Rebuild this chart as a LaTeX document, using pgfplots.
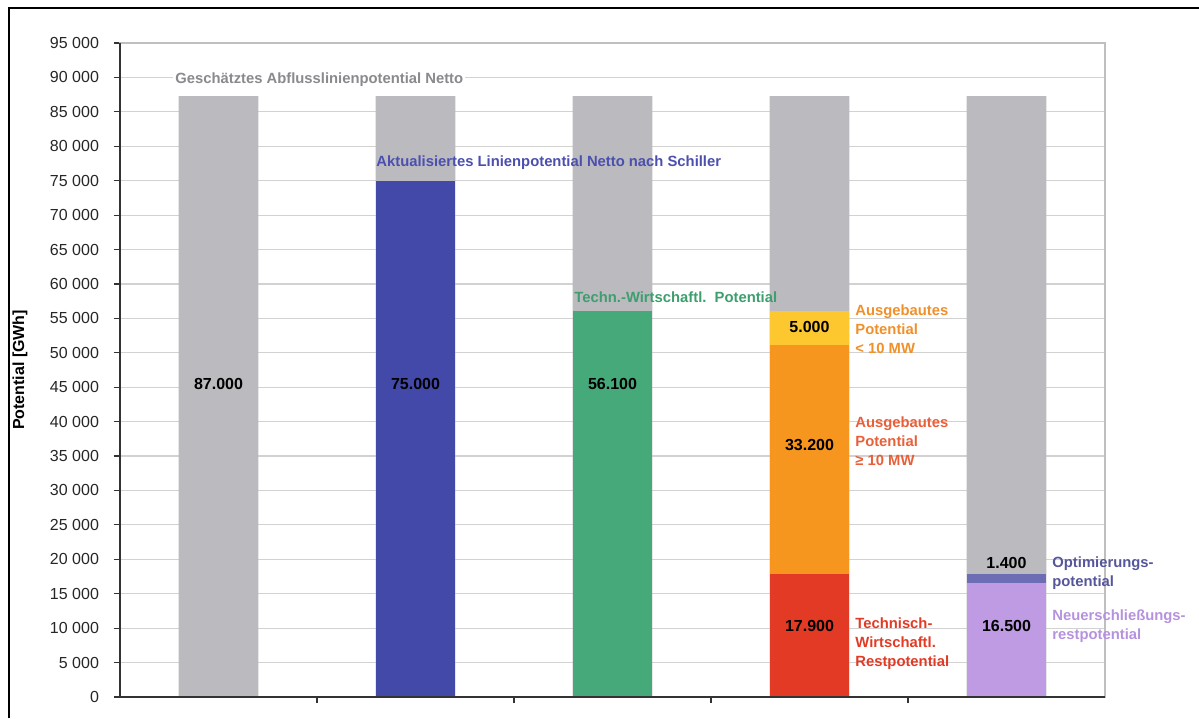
\documentclass[border=0pt]{standalone}
\usepackage{fontspec}
\setmainfont{Liberation Sans}
\usepackage{pgfplots}
\pgfplotsset{compat=1.18}
\definecolor{cgrey}{HTML}{BBBBBF}
\definecolor{cblue}{HTML}{4249A9}
\definecolor{cgreen}{HTML}{45A97A}
\definecolor{cyellow}{HTML}{FDC82F}
\definecolor{corange}{HTML}{F7961E}
\definecolor{cred}{HTML}{E23A24}
\definecolor{clav}{HTML}{BE9BE3}
\definecolor{cband}{HTML}{6D6DB5}
\definecolor{tgrey}{HTML}{8A8A8E}
\definecolor{tblue}{HTML}{4B4FAE}
\definecolor{tgreen}{HTML}{3E9E6E}
\definecolor{torange}{HTML}{F0902A}
\definecolor{tred2}{HTML}{E8603A}
\definecolor{tred}{HTML}{E23A24}
\definecolor{tslate}{HTML}{56569A}
\definecolor{tlav}{HTML}{B592DE}
\begin{document}
\begin{tikzpicture}
\path[use as bounding box] (-60pt,-10.5pt) rectangle (539.5pt,348.5pt);
\draw[black, line width=1pt] (-55.5pt,-10.5pt) -- (-55.5pt,344.5pt) -- (539.5pt,344.5pt);
\begin{axis}[
  at={(0,0)}, anchor=south west,
  scale only axis, width=492.5pt, height=327pt,
  xmin=-0.5, xmax=4.5, ymin=0, ymax=95000,
  enlargelimits=false,
  scaled y ticks=false,
  xtick={0.5,1.5,2.5,3.5}, xticklabels={},
  xtick pos=bottom, ytick pos=left,
  tick align=outside, major tick length=3pt,
  tick style={black!80, line width=0.6pt},
  ytick={0,5000,...,95000},
  yticklabels={0,5 000,10 000,15 000,20 000,25 000,30 000,35 000,40 000,45 000,50 000,55 000,60 000,65 000,70 000,75 000,80 000,85 000,90 000,95 000},
  yticklabel style={font=\fontsize{8}{9}\selectfont, text=black!85},
  yticklabel shift=4pt,
  ymajorgrids, grid style={gray!35, line width=0.6pt},
  axis line style={draw=gray!50, line width=0.6pt},
  ylabel={Potential [GWh]},
  every axis y label/.style={at={(rel axis cs:0,0.5)}, xshift=-50pt, rotate=90, anchor=center, font=\bfseries\fontsize{8}{9}\selectfont},
  every axis plot/.append style={ybar, bar width=0.406, bar shift=0pt, draw=none},
  clip=false,
]
\addplot[fill=cgrey] coordinates {(0,87300) (1,87300) (2,87300) (3,87300) (4,87300)};
\addplot[fill=cblue] coordinates {(1,75000)};
\addplot[fill=cgreen] coordinates {(2,56100)};
\addplot[fill=cyellow] coordinates {(3,56100)};
\addplot[fill=corange] coordinates {(3,51100)};
\addplot[fill=cred] coordinates {(3,17900)};
\addplot[fill=cband] coordinates {(4,17900)};
\addplot[fill=clav] coordinates {(4,16500)};
\draw[black!80, line width=0.7pt] (rel axis cs:0,1) -- (rel axis cs:0,0) -- (rel axis cs:1,0);
% value labels
\begin{scope}[every node/.style={font=\bfseries\fontsize{8}{9}\selectfont, text=black, inner sep=0pt}]
\node at (axis cs:0,45466) {87.000};
\node at (axis cs:1,45466) {75.000};
\node at (axis cs:2,45466) {56.100};
\node at (axis cs:3,53748) {5.000};
\node at (axis cs:3,36607) {33.200};
\node at (axis cs:3,10314) {17.900};
\node at (axis cs:4,19465) {1.400};
\node at (axis cs:4,10314) {16.500};
\end{scope}
% annotations
\begin{scope}[every node/.style={font=\bfseries\fontsize{7.4}{9.5}\selectfont, inner sep=0pt, anchor=west, align=left}]
\node[fill=white, inner sep=1pt, text=tgrey] at (axis cs:-0.231,89627) {Geschätztes Abflusslinienpotential Netto};
\node[text=tblue] at (axis cs:0.80,77570) {Aktualisiertes Linienpotential Netto nach Schiller};
\node[text=tgreen] at (axis cs:1.805,58105) {Techn.-Wirtschaftl.\ \ Potential};
\node[text=torange] at (axis cs:3.231,53457) {Ausgebautes\\Potential\\< 10 MW};
\node[text=tred2] at (axis cs:3.231,37188) {Ausgebautes\\Potential\\≥ 10 MW};
\node[text=tred] at (axis cs:3.231,7699) {Technisch-\\Wirtschaftl.\\Restpotential};
\node[text=tslate] at (axis cs:4.231,17940) {Optimierungs-\\potential};
\node[text=tlav] at (axis cs:4.231,10314) {Neuerschließungs-\\restpotential};
\end{scope}
\end{axis}
\end{tikzpicture}
\end{document}
